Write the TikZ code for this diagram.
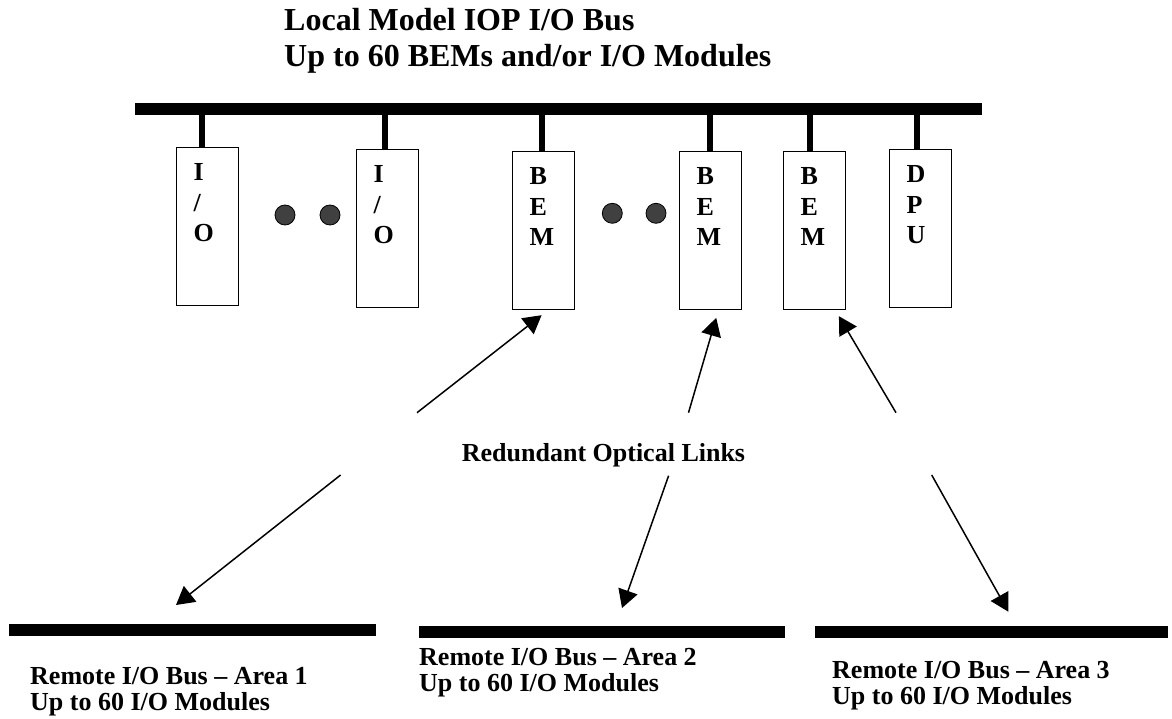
\documentclass[tikz,border=0pt]{standalone}
\usepackage{fontspec}
\setmainfont{Liberation Serif}
\usetikzlibrary{arrows.meta,calc}
\begin{document}
\begin{tikzpicture}[x=1pt,y=-1pt,
  busbar/.style={fill=black,draw=none,inner sep=0pt,outer sep=0pt},
  modbox/.style={draw=black,line width=1.2pt,minimum width=62pt,minimum height=158pt,inner sep=0pt,anchor=north west},
  letters/.style={inner sep=0pt,anchor=base west,font=\fontsize{26}{30.5}\selectfont\bfseries},
  stub/.style={line width=6pt},
  dotc/.style={circle,fill=black!75,draw=black,line width=0.8pt,minimum size=20pt,inner sep=0pt},
  lbl/.style={inner sep=0pt,anchor=base west,font=\fontsize{26}{26}\selectfont\bfseries},
  ttl/.style={inner sep=0pt,anchor=base west,font=\fontsize{32}{36}\selectfont\bfseries},
  arr/.style={line width=1.5pt,-{Triangle[length=18pt,width=20pt]}}]
\useasboundingbox (0,0) rectangle (1172,719);
\fill[white] (0,0) rectangle (1172,719);

% title
\node[ttl] (title) at (284,30.7) {\begin{tabular}[t]{@{}l@{}}Local Model IOP I/O Bus\\Up to 60 BEMs and/or I/O Modules\end{tabular}};

% local bus
\node[busbar,minimum width=847pt,minimum height=11.5pt] (bus) at (558.5,108.8) {};

% modules
\node[modbox] (io1)  at (176,147) {};
\node[modbox] (io2)  at (356,149) {};
\node[modbox] (bem1) at (512,151) {};
\node[modbox] (bem2) at (679,151) {};
\node[modbox] (bem3) at (783,151) {};
\node[modbox] (dpu)  at (889,149) {};

\foreach \b/\t in {io1/{I\\/\\O}, io2/{I\\/\\O}, bem1/{B\\E\\M}, bem2/{B\\E\\M}, bem3/{B\\E\\M}, dpu/{D\\P\\U}}{
  \node[letters] (\b-txt) at ($(\b.north west)+(17.5,34)$) {\begin{tabular}[t]{@{}l@{}}\t\end{tabular}};
}

% stubs
\foreach \b/\s in {io1/-6, io2/-3, bem1/-2, bem2/-1, bem3/-5, dpu/-4}{
  \draw[stub] ([xshift=\s pt]\b.north) -- ([xshift=\s pt]\b.north |- bus.center);
}

% dots
\node[dotc] (d1) at (285,215) {};
\node[dotc] (d2) at (330,215) {};
\node[dotc] (d3) at (612.3,213.3) {};
\node[dotc] (d4) at (656,213.3) {};

% middle label
\node[lbl] (rol) at (461.7,461.7) {Redundant Optical Links};

% remote buses
\node[busbar,minimum width=367pt,minimum height=12pt] (rb1) at (192.5,630) {};
\node[busbar,minimum width=366pt,minimum height=12pt] (rb2) at (602,632) {};
\node[busbar,minimum width=353pt,minimum height=12pt] (rb3) at (991.5,632) {};

\node[lbl] (t1) at (30,684) {\begin{tabular}[t]{@{}l@{}}Remote I/O Bus -- Area 1\\Up to 60 I/O Modules\end{tabular}};
\node[lbl] (t2) at (419,665) {\begin{tabular}[t]{@{}l@{}}Remote I/O Bus -- Area 2\\Up to 60 I/O Modules\end{tabular}};
\node[lbl] (t3) at (832,678) {\begin{tabular}[t]{@{}l@{}}Remote I/O Bus -- Area 3\\Up to 60 I/O Modules\end{tabular}};

% arrow free ends
\coordinate (u1) at (417,412.7);
\coordinate (l1) at (340.6,475);
\coordinate (u2) at (688.5,412.7);
\coordinate (l2) at (668.6,475.7);
\coordinate (u3) at (896,412.7);
\coordinate (l3) at (931.7,475);

\draw[arr] (u1) -- ($(bem1.south)+(-2,5)$);
\draw[arr] (l1) -- ($(rb1.north)+(-16.5,-19)$);
\draw[arr] (u2) -- ($(bem2.south)+(5.6,7.7)$);
\draw[arr] (l2) -- ($(rb2.north)+(20,-18)$);
\draw[arr] (u3) -- ($(bem3.south)+(24.3,6)$);
\draw[arr] (l3) -- ($(rb3.north)+(16.8,-14.3)$);
\end{tikzpicture}
\end{document}
